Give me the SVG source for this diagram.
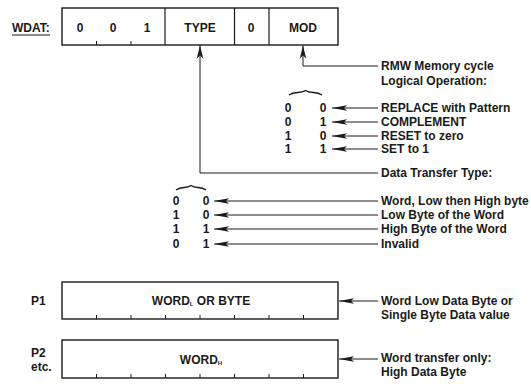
<svg xmlns="http://www.w3.org/2000/svg" width="531" height="384" viewBox="0 0 531 384">
<defs>
<marker id="ah" viewBox="-16 -4 17 8" markerWidth="17" markerHeight="8" refX="0" refY="0" orient="auto" markerUnits="userSpaceOnUse">
<path d="M0,0 L-15,-2.8 L-12,0 L-15,2.8 Z" fill="#1a1a1a"/>
</marker>
<marker id="ahu" viewBox="-14 -5 15 10" markerWidth="15" markerHeight="10" refX="0" refY="0" orient="auto" markerUnits="userSpaceOnUse">
<path d="M0,0 L-13,-3.2 L-10,0 L-13,3.2 Z" fill="#1a1a1a"/>
</marker>
</defs>
<style>
text{font-family:"Liberation Sans",Arial,sans-serif;font-weight:bold;font-size:12px;fill:#1a1a1a}
.c{text-anchor:middle}
.box{fill:#fff;stroke:#1a1a1a;stroke-width:1.4}
.div{stroke:#1a1a1a;stroke-width:1.2}
.tick{stroke:#1a1a1a;stroke-width:1}
.ln{fill:none;stroke:#1a1a1a;stroke-width:1}
.brace{fill:none;stroke:#1a1a1a;stroke-width:1.4}
.sub{font-size:6px}
</style>

<g id="wdat-label">
<text x="12" y="32" font-size="11.5">WDAT:</text>
<line x1="12" y1="35" x2="50" y2="35" class="div"/>
</g>

<g id="wdat-register">
<rect x="62" y="8" width="276" height="37" class="box"/>
<line x1="165" y1="8" x2="165" y2="45" class="div"/>
<line x1="234.5" y1="8" x2="234.5" y2="45" class="div"/>
<line x1="269" y1="8" x2="269" y2="45" class="div"/>
<line x1="96.5" y1="41" x2="96.5" y2="45" class="tick"/>
<line x1="131" y1="41" x2="131" y2="45" class="tick"/>
<text x="80" y="32" class="c">0</text>
<text x="113" y="32" class="c">0</text>
<text x="147" y="32" class="c">1</text>
<text x="200" y="32" class="c">TYPE</text>
<text x="251" y="32" class="c">0</text>
<text x="303" y="32" class="c">MOD</text>
</g>

<g id="mod-desc">
<text x="381" y="70">RMW Memory cycle</text>
<text x="381" y="85">Logical Operation:</text>
<path d="M289,95 C295,91 300,94 305.5,90.5 C311,94 316,91 322,95" class="brace"/>
<text x="288" y="112" class="c">0</text><text x="323" y="112" class="c">0</text>
<text x="288" y="126" class="c">0</text><text x="323" y="126" class="c">1</text>
<text x="288" y="140" class="c">1</text><text x="323" y="140" class="c">0</text>
<text x="288" y="153" class="c">1</text><text x="323" y="153" class="c">1</text>
<text x="381" y="112">REPLACE with Pattern</text>
<text x="381" y="126">COMPLEMENT</text>
<text x="381" y="140">RESET to zero</text>
<text x="381" y="153">SET to 1</text>
</g>

<g id="type-desc">
<text x="381" y="177">Data Transfer Type:</text>
<path d="M176,190 C182,186 186,189 191,185.5 C196,189 200,186 206,190" class="brace"/>
<text x="176" y="205" class="c">0</text><text x="206" y="205" class="c">0</text>
<text x="176" y="219" class="c">1</text><text x="206" y="219" class="c">0</text>
<text x="176" y="233" class="c">1</text><text x="206" y="233" class="c">1</text>
<text x="176" y="248" class="c">0</text><text x="206" y="248" class="c">1</text>
<text x="381" y="205">Word, Low then High byte</text>
<text x="381" y="219">Low Byte of the Word</text>
<text x="381" y="233">High Byte of the Word</text>
<text x="381" y="248">Invalid</text>
</g>

<g id="p1">
<text x="31" y="305">P1</text>
<rect x="62" y="282" width="276" height="37" class="box"/>
<line x1="96.5" y1="315" x2="96.5" y2="319" class="tick"/>
<line x1="131" y1="315" x2="131" y2="319" class="tick"/>
<line x1="165.5" y1="315" x2="165.5" y2="319" class="tick"/>
<line x1="200" y1="315" x2="200" y2="319" class="tick"/>
<line x1="234.5" y1="315" x2="234.5" y2="319" class="tick"/>
<line x1="269" y1="315" x2="269" y2="319" class="tick"/>
<line x1="303.5" y1="315" x2="303.5" y2="319" class="tick"/>
<text x="201" y="305" class="c">WORD<tspan class="sub" dy="1">L</tspan><tspan dy="-1"> OR BYTE</tspan></text>
<text x="381" y="305">Word Low Data Byte or</text>
<text x="381" y="319">Single Byte Data value</text>
</g>

<g id="p2">
<text x="31" y="357">P2</text>
<text x="31" y="371">etc.</text>
<rect x="62" y="340" width="276" height="38" class="box"/>
<line x1="96.5" y1="374" x2="96.5" y2="378" class="tick"/>
<line x1="131" y1="374" x2="131" y2="378" class="tick"/>
<line x1="165.5" y1="374" x2="165.5" y2="378" class="tick"/>
<line x1="200" y1="374" x2="200" y2="378" class="tick"/>
<line x1="234.5" y1="374" x2="234.5" y2="378" class="tick"/>
<line x1="269" y1="374" x2="269" y2="378" class="tick"/>
<line x1="303.5" y1="374" x2="303.5" y2="378" class="tick"/>
<text x="201" y="364" class="c">WORD<tspan class="sub" dy="1">H</tspan></text>
<text x="381" y="362">Word transfer only:</text>
<text x="381" y="376">High Data Byte</text>
</g>

<g id="connectors">
<polyline points="378,66 303,66 303,45.5" class="ln" marker-end="url(#ahu)"/>
<polyline points="378,173 200,173 200,45.5" class="ln" marker-end="url(#ahu)"/>
<line x1="378" y1="108" x2="332" y2="108" class="ln" marker-end="url(#ah)"/>
<line x1="378" y1="122" x2="332" y2="122" class="ln" marker-end="url(#ah)"/>
<line x1="378" y1="136" x2="332" y2="136" class="ln" marker-end="url(#ah)"/>
<line x1="378" y1="149" x2="332" y2="149" class="ln" marker-end="url(#ah)"/>
<line x1="378" y1="201" x2="214" y2="201" class="ln" marker-end="url(#ah)"/>
<line x1="378" y1="215" x2="214" y2="215" class="ln" marker-end="url(#ah)"/>
<line x1="378" y1="229" x2="214" y2="229" class="ln" marker-end="url(#ah)"/>
<line x1="378" y1="244" x2="214" y2="244" class="ln" marker-end="url(#ah)"/>
<line x1="378" y1="301" x2="339" y2="301" class="ln" marker-end="url(#ah)"/>
<line x1="378" y1="359" x2="339" y2="359" class="ln" marker-end="url(#ah)"/>
</g>
</svg>
